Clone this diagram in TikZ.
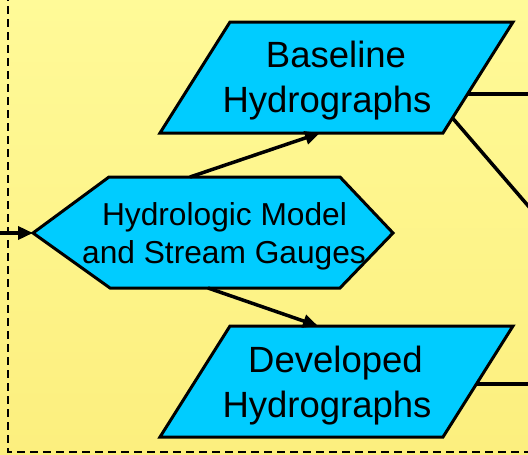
\documentclass[tikz,border=0pt]{standalone}
\usepackage{fontspec}
\setmainfont{Liberation Sans}
\usetikzlibrary{arrows.meta}
\definecolor{skyc}{HTML}{00CCFF}
\definecolor{ytop}{HTML}{FFFA98}
\definecolor{ybot}{HTML}{FCEF7E}
\tikzset{
  shapebox/.style={draw=black, line width=3pt, fill=skyc, line join=miter},
  conn/.style={draw=black, line width=3.5pt},
  arr/.style={conn, -{Triangle[length=15pt,width=13pt]}},
  bigtxt/.style={anchor=base, inner sep=0pt, font=\fontsize{36.5}{44}\selectfont},
  midtxt/.style={anchor=base, inner sep=0pt, font=\fontsize{31.7}{38}\selectfont},
}
\begin{document}
\begin{tikzpicture}[x=1pt,y=-1pt]
\useasboundingbox (0,0) rectangle (528,455);
\clip (0,0) rectangle (528,455);
\shade[top color=ytop, bottom color=ybot] (0,0) rectangle (528,455);
\draw[dash pattern=on 8pt off 5pt, line width=2.2pt] (8,-20) -- (8,452) -- (560,452);

% shapes
\path[shapebox] (230,22) -- (513,22) -- (443,133) -- (160,133) -- cycle;
\path[shapebox] (230,326) -- (513,326) -- (443,437) -- (160,437) -- cycle;
\path[shapebox] (33,233) -- (109,177) -- (340,177) -- (393,233) -- (340,288) -- (110,288) -- cycle;

% texts
\node[bigtxt] (base1) at (336,67) {Baseline};
\node[bigtxt] (base2) at (327,112) {Hydrographs};
\node[bigtxt] (dev1) at (335.5,372) {Developed};
\node[bigtxt] (dev2) at (327,417) {Hydrographs};
\node[midtxt] (hyd1) at (224.5,225) {Hydrologic Model};
\node[midtxt] (hyd2) at (224,263) {and Stream Gauges};

% anchor coordinates
\coordinate (hexL) at (33,233);
\coordinate (hexT) at (190,177);
\coordinate (hexB) at (208,288);
\coordinate (baseB) at (320,133);
\coordinate (devT) at (318,326);
\coordinate (inL) at (-5,233);
\coordinate (baseR1) at (467.6,94);
\coordinate (baseR2) at (452.5,118);
\coordinate (devR) at (476.4,384);
\coordinate (outA) at (540,94);
\coordinate (outB) at (540,219.6);
\coordinate (outC) at (540,384);

% connectors
\draw[arr] (inL) -- (hexL);
\draw[arr] (hexT) -- (baseB);
\draw[arr] (hexB) -- (devT);
\draw[conn] (baseR1) -- (outA);
\draw[conn] (baseR2) -- (outB);
\draw[conn] (devR) -- (outC);
\end{tikzpicture}
\end{document}
